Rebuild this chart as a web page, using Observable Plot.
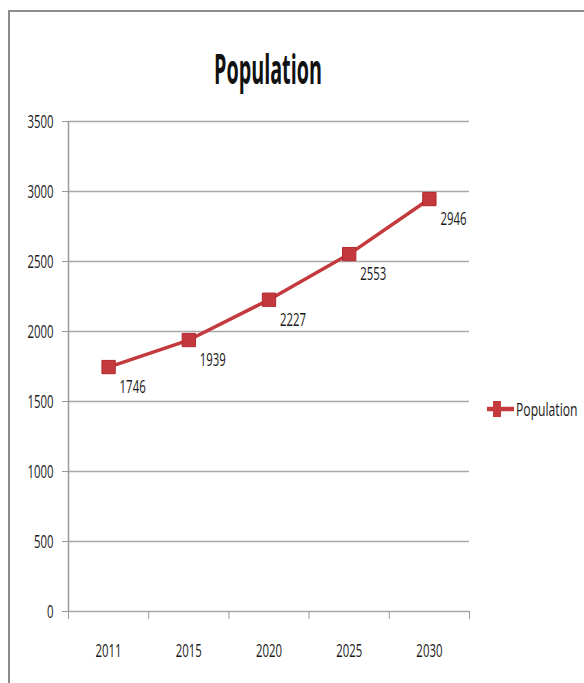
<!DOCTYPE html>
<html>
<head>
<meta charset="utf-8">
<script src="https://cdn.jsdelivr.net/npm/d3@7"></script>
<script src="https://cdn.jsdelivr.net/npm/@observablehq/plot@0.6"></script>
<style>
  html, body { margin: 0; padding: 0; background: #fff; width: 584px; height: 683px; overflow: hidden; }
  #frame { position: absolute; left: 8px; top: 10px; width: 620px; height: 720px; border: 2px solid #8c8c8c; box-sizing: border-box; }
  #title { position: absolute; left: 0; top: 40px; width: 536px; text-align: center; font-family: "Open Sans", sans-serif; font-weight: bold; font-size: 42px; line-height: 56px; color: #111; transform: scaleX(0.47); transform-origin: 268px 0; }
  #chart { position: absolute; left: 0; top: 100px; }
  #legend { position: absolute; left: 487px; top: 396px; display: flex; align-items: center; }
  #legend .lbl { font-family: "Open Sans", sans-serif; font-size: 19px; color: #1a1a1a; transform: scaleX(0.64); transform-origin: 0 50%; display: inline-block; margin-left: 2px; }
</style>
</head>
<body>
<div id="frame"></div>
<div id="title">Population</div>
<div id="chart"></div>
<div id="legend"></div>
<script>
const years = ["2011", "2015", "2020", "2025", "2030"];
const population = [1746, 1939, 2227, 2553, 2946];
const yTicks = [0, 500, 1000, 1500, 2000, 2500, 3000, 3500];
const seriesName = "Population";

const lineColor = "#c3393d";
const font = '"Open Sans", sans-serif';

const data = years.map((year, i) => ({i, year, value: population[i]}));
const centers = years.map((_, i) => i);
const bounds = years.map((_, i) => i - 0.5).concat([years.length - 0.5]);

const chart = Plot.plot({
  width: 584,
  height: 583,
  marginLeft: 68,
  marginRight: 115,
  marginTop: 21,
  marginBottom: 72,
  style: {fontFamily: font, fontSize: "19px", color: "#1a1a1a", background: "transparent"},
  x: {type: "linear", domain: [-0.5, years.length - 0.5]},
  y: {domain: [0, 3500]},
  marks: [
    Plot.gridY(yTicks, {stroke: "#a8a8a8", strokeOpacity: 1, strokeWidth: 1.6}),
    Plot.ruleX([-0.5], {y1: 0, y2: 3500, stroke: "#9a9a9a", strokeWidth: 1.5}),
    Plot.axisY({ticks: yTicks, tickSize: 6, tickPadding: 9, stroke: "#9a9a9a", fill: "#1a1a1a", label: null, tickFormat: d => String(d), fontSize: 19}),
    Plot.axisX({ticks: bounds, tickSize: 8, stroke: "#9a9a9a", tickFormat: () => "", label: null}),
    Plot.axisX({ticks: centers, tickSize: 0, tickPadding: 32, fill: "#1a1a1a", tickFormat: i => years[i], label: null, fontSize: 19}),
    Plot.line(data, {x: "i", y: "value", stroke: lineColor, strokeWidth: 3.5}),
    Plot.dot(data, {x: "i", y: "value", symbol: "square", r: 7.5, fill: lineColor, stroke: "#b3272b", strokeWidth: 1}),
    Plot.text(data, {x: "i", y: "value", text: d => String(d.value), dx: 11, dy: 20, textAnchor: "start", fill: "#1a1a1a", fontSize: 19})
  ]
});
// condensed lettering, as in the reference (horizontal squeeze about each text's anchor)
d3.select(chart).selectAll("text").each(function() {
  const t = this.getAttribute("transform");
  if (t && t.includes("translate")) this.setAttribute("transform", t + " scale(0.6,1)");
});
document.getElementById("chart").appendChild(chart);

const legend = document.getElementById("legend");
legend.innerHTML = `<svg width="27" height="22"><line x1="0" y1="11" x2="27" y2="11" stroke="${lineColor}" stroke-width="4.5"/><rect x="6" y="3" width="8" height="16" fill="${lineColor}"/></svg><span class="lbl">${seriesName}</span>`;
</script>
</body>
</html>
